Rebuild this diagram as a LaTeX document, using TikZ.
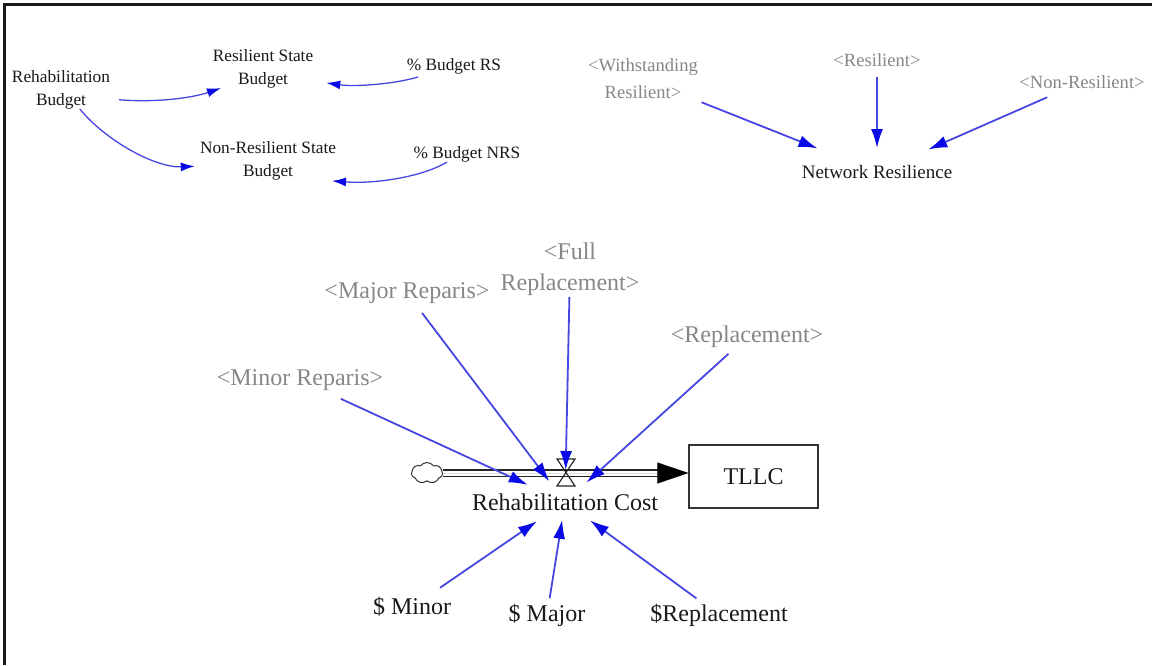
\documentclass[tikz,border=0pt]{standalone}
\usepackage{fontspec}
\setmainfont{Liberation Serif}
\usetikzlibrary{arrows.meta,shapes.symbols,calc}
\definecolor{linkblue}{RGB}{70,70,225}
\definecolor{tipblue}{RGB}{10,10,230}
\definecolor{shadowtxt}{RGB}{135,135,135}
\definecolor{ink}{RGB}{25,25,25}
\begin{document}
\begin{tikzpicture}[x=1pt,y=1pt,
  sm/.style={font=\fontsize{17.3}{23}\selectfont, align=center, text=ink, inner sep=0pt},
  gr/.style={font=\fontsize{18.6}{27}\selectfont, align=center, text=shadowtxt, inner sep=0pt},
  nm/.style={font=\fontsize{19}{24}\selectfont, text=ink, inner sep=0pt},
  bg/.style={font=\fontsize{24}{31}\selectfont, align=center, text=shadowtxt, inner sep=0pt},
  bt/.style={font=\fontsize{24}{31}\selectfont, text=ink, inner sep=0pt},
  stockbox/.style={draw=black!80, line width=1.3pt, minimum width=129pt, minimum height=63pt, inner sep=0pt, font=\fontsize{24}{31}\selectfont, text=ink},
  srccloud/.style={cloud, cloud puffs=7, cloud puff arc=110, aspect=1.5, draw=black!80, line width=1pt, minimum width=31pt, minimum height=21pt, inner sep=0pt},
  link/.style={draw=linkblue, line width=1.3pt, -{Latex[length=14pt,width=9pt,color=tipblue]}},
  slink/.style={draw=linkblue, line width=1.8pt, -{Latex[length=19pt,width=12pt,color=tipblue]}},
  pipe/.style={draw=black!85, line width=1.8pt, double=white, double distance=5pt},
  pipetip/.style={draw=black, line width=0.01pt, -{Triangle[length=31pt,width=21pt,color=black]}}
]
\useasboundingbox (0,0) rectangle (1152,-665);
\fill[white] (0,0) rectangle (1152,-665);
% frame (top and left edges)
\draw[line width=2.5pt, black!90] (4.5,-665) -- (4.5,-4.5) -- (1152,-4.5);

% ---------- top left: budgets ----------
\node[sm] (rb)   at (61,-89.5)  {Rehabilitation\\Budget};
\node[sm] (rsb)  at (263,-68.5) {Resilient State\\Budget};
\node[sm] (prs)  at (454,-66)   {\% Budget RS};
\node[sm] (nrsb) at (268,-161.3) {Non-Resilient State\\Budget};
\node[sm] (pnrs) at (467,-154)  {\% Budget NRS};

\draw[link, shorten <=9pt] (rb.-11) .. controls (160,-103) and (195,-97) .. (rsb.205);
\draw[link, shorten >=5pt] (rb.-46) .. controls (105,-140) and (155,-168) .. (nrsb.184);
\draw[link, shorten <=10pt, shorten >=13pt] (prs.197) .. controls (395,-84) and (355,-87) .. (rsb.-14);
\draw[link] (pnrs.202) .. controls (420,-178) and (372,-184) .. (nrsb.-17);

% ---------- top right: network resilience ----------
\node[gr] (wr)   at (643,-79)  {<Withstanding\\Resilient>};
\node[gr] (res)  at (877,-60)  {<Resilient>};
\node[gr] (nres) at (1082,-82) {<Non-Resilient>};
\node[nm] (nr)   at (877,-172) {Network Resilience};

\draw[slink, shorten <=63pt, shorten >=64pt] (wr.center) -- (nr.center);
\draw[slink, shorten <=17pt, shorten >=24pt] (res.center) -- (nr.center);
\draw[slink, shorten <=38pt, shorten >=56pt] (nres.center) -- (nr.center);

% ---------- middle: rehabilitation cost flow ----------
\node[srccloud] (src) at (427,-473) {};
\node[stockbox] (tllc) at (753.5,-476.5) {TLLC};
\node[bt] (rc) at (565,-502) {Rehabilitation Cost};

\draw[pipe] (src.east) -- ([xshift=-28pt]src.east -| tllc.west);
\draw[pipetip] (src.east) -- (src.east -| tllc.west);
% valve
\draw[black!85, line width=1.2pt] (557,-459) -- (575,-459) -- (557,-486) -- (575,-486) -- cycle;

\node[bg] (fr)   at (570,-269) {<Full\\Replacement>};
\node[bg] (majr) at (407,-293) {<Major Reparis>};
\node[bg] (minr) at (300,-380) {<Minor Reparis>};
\node[bg] (repl) at (747,-337) {<Replacement>};
\node[bt] (smin) at (412,-607) {\$ Minor};
\node[bt] (smaj) at (547,-615) {\$ Major};
\node[bt] (srep) at (719,-615) {\$Replacement};

\draw[slink, shorten <=45pt, shorten >=41pt] (minr.center) -- (rc.center);
\draw[slink, shorten <=25pt, shorten >=26pt] (majr.center) -- (rc.center);
\draw[slink, shorten <=28pt, shorten >=32pt] (fr.center) -- (rc.center);
\draw[slink, shorten <=25pt, shorten >=29pt] (repl.center) -- (rc.center);
\draw[slink, shorten <=34pt, shorten >=34pt] (smin.center) -- (rc.center);
\draw[slink, shorten <=17pt, shorten >=18pt] (smaj.center) -- (rc.center);
\draw[slink, shorten <=28pt, shorten >=31pt] (srep.center) -- (rc.center);
\end{tikzpicture}
\end{document}
